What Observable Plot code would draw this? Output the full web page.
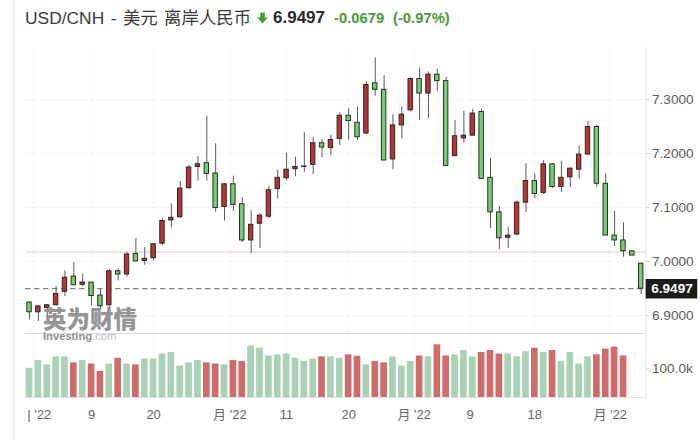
<!DOCTYPE html>
<html>
<head>
<meta charset="utf-8">
<script src="https://cdn.jsdelivr.net/npm/d3@7"></script>
<script src="https://cdn.jsdelivr.net/npm/@observablehq/plot@0.6"></script>
<style>
html,body{margin:0;padding:0;background:#fff;width:700px;height:440px;overflow:hidden;font-family:"Liberation Sans","Noto Sans CJK SC",sans-serif}
#edge{position:absolute;left:12.5px;top:0;width:2.5px;height:440px;background:#ececec}
#head{position:absolute;left:25px;top:7px;height:22px;line-height:22px;white-space:nowrap;color:#3a3a3a;font-size:17.4px;word-spacing:1.6px}
#head b{position:absolute;top:0;font-weight:bold}
#head svg{position:absolute;left:232px;top:5px}
#mark{position:absolute;left:43px;top:307px;white-space:nowrap}
#mark .a{display:block;height:23px;font:900 23.5px/23px "Noto Sans CJK SC";color:#8a8a8a;opacity:.9}
#mark .b{display:block;height:12px;font:bold 11.2px/12px "Liberation Sans";color:#8d8d8d}
#mark .b span{font-weight:normal;color:#bdbdbd}
#charts{position:absolute;left:0;top:0}
#charts svg{display:block;background:transparent}
</style>
</head>
<body>
<div id="charts"></div>
<div id="edge"></div>
<div id="head"><span>USD/CNH - 美元 离岸人民币</span>
<svg width="11" height="12" viewBox="0 0 11 12"><path d="M3.2 0.5H7.8V5.5H10.8L5.5 11.5L0.2 5.5H3.2Z" fill="#4a9a3a"/></svg>
<b style="left:248px;font-size:17px;color:#2a2a2a">6.9497</b>
<b style="left:309px;font-size:14.8px;color:#4a9a3a">-0.0679</b>
<b style="left:368px;font-size:14.8px;color:#4a9a3a">(-0.97%)</b>
</div>
<div id="mark"><div class="a">英为财情</div><div class="b">Investing<span>.com</span></div></div>
<script>
const open  = [6.924,6.906,6.914,6.919,6.944,6.972,6.957,6.961,6.937,6.919,6.982,6.976,7.014,7.001,7.006,7.033,7.076,7.082,7.136,7.175,7.182,7.163,7.101,7.143,7.106,7.039,7.070,7.083,7.134,7.154,7.171,7.175,7.179,7.219,7.210,7.227,7.270,7.257,7.237,7.330,7.318,7.189,7.252,7.280,7.338,7.311,7.346,7.334,7.195,7.228,7.233,7.277,7.155,7.091,7.044,7.050,7.109,7.149,7.127,7.180,7.138,7.156,7.170,7.198,7.249,7.144,7.048,7.039,7.019,6.996];
const close = [6.906,6.917,6.919,6.940,6.970,6.956,6.961,6.936,6.917,6.982,6.976,7.013,7.000,7.005,7.032,7.075,7.081,7.135,7.174,7.180,7.162,7.099,7.143,7.105,7.039,7.068,7.085,7.132,7.155,7.170,7.175,7.176,7.219,7.211,7.225,7.270,7.260,7.230,7.327,7.318,7.187,7.252,7.272,7.338,7.311,7.346,7.334,7.177,7.232,7.233,7.274,7.153,7.091,7.043,7.048,7.109,7.149,7.125,7.180,7.138,7.155,7.172,7.198,7.249,7.144,7.048,7.039,7.019,7.011,6.9497];
const high  = [6.925,6.917,6.920,6.954,6.983,6.998,6.977,6.961,6.948,6.985,6.987,7.017,7.043,7.026,7.033,7.079,7.107,7.148,7.178,7.194,7.269,7.218,7.144,7.158,7.118,7.094,7.089,7.139,7.169,7.201,7.193,7.239,7.230,7.226,7.234,7.275,7.283,7.286,7.333,7.377,7.344,7.272,7.286,7.340,7.358,7.351,7.356,7.341,7.261,7.278,7.282,7.282,7.191,7.102,7.064,7.112,7.181,7.162,7.187,7.181,7.185,7.173,7.214,7.259,7.252,7.162,7.093,7.072,7.019,6.996];
const low   = [6.892,6.889,6.896,6.918,6.935,6.956,6.953,6.918,6.912,6.909,6.964,6.971,7.000,6.993,7.001,7.030,7.062,7.080,7.133,7.149,7.149,7.091,7.075,7.093,7.035,7.015,7.024,7.079,7.116,7.150,7.157,7.165,7.161,7.192,7.196,7.215,7.225,7.224,7.235,7.306,7.187,7.170,7.227,7.277,7.261,7.264,7.315,7.177,7.195,7.219,7.233,7.153,7.061,7.022,7.024,7.048,7.091,7.116,7.124,7.135,7.128,7.137,7.153,7.198,7.137,7.048,7.028,7.008,7.011,6.939];
const volume = [102,129,114,142,142,121,129,117,91,117,137,117,114,134,134,152,157,110,121,129,121,117,114,129,126,180,172,145,149,152,137,126,134,142,142,137,149,144,114,126,121,142,110,126,145,142,184,145,149,164,142,157,164,152,152,142,160,172,157,164,126,157,117,142,149,169,176,145];
const volumeTone = ["g","g","g","g","g","r","g","r","r","g","r","g","r","g","g","g","g","g","g","g","r","r","g","r","r","g","g","g","g","g","g","g","g","r","g","g","r","r","g","r","r","g","g","g","r","g","r","r","g","g","g","r","r","r","g","g","g","r","g","r","g","g","g","g","r","r","r","r"];
const tickSpots = [0.45,7,14,22.6,29,36,43.4,49.7,57,65.5];
const labelSpots = [1.1,7,14,22.6,29,36,43.4,49.7,57,65.5];
const tickLabels = ["| '22","9","20","月 '22","11","20","月 '22","9","18","月 '22"];
const priceTicks = [6.9,7.0,7.1,7.2,7.3];
const volumeTicks = [100];
const lastPrice = 6.9497;
const previousClose = 7.0176;

const candles = open.map((o,i)=>({i,o,c:close[i],h:high[i],l:low[i]}));
const bars = volume.map((v,i)=>({i,v,tone:volumeTone[i]}));
const xScale = {domain:[0,69],range:[29,640.7]};
const font = '"Liberation Sans","Noto Sans CJK SC",sans-serif';
const grid = "#f7f7f7", inkAxis = "#5c5c5c";

const price = Plot.plot({
  width:700,height:334,marginLeft:25,marginRight:54.5,marginTop:47,marginBottom:1,
  style:{fontFamily:font,background:"transparent"},
  x:{...xScale,axis:null},
  y:{domain:[6.8667,7.3963],range:[333,47],axis:null},
  marks:[
    Plot.ruleY(priceTicks,{stroke:grid}),
    Plot.ruleX(tickSpots,{stroke:grid}),
    Plot.frame({anchor:"right",stroke:"#e2e2e2"}),
    Plot.ruleY([6.8667],{stroke:"#d9d9d9",strokeWidth:1.2}),
    Plot.ruleY([previousClose],{stroke:"#f2c4c2"}),
    Plot.ruleY([lastPrice],{stroke:"#666",strokeDasharray:"5.5,3.5"}),
    Plot.ruleX(candles,{x:"i",y1:"l",y2:"h",stroke:"#5a5a5a"}),
    Plot.rect(candles,{x1:d=>d.i-0.25,x2:d=>d.i+0.25,y1:"o",y2:"c",
      fill:d=>d.c>=d.o?"#b83434":"#74cf72",stroke:"#25261f",strokeWidth:0.95}),
    Plot.axisY(priceTicks,{anchor:"right",tickSize:2.5,tickPadding:3.5,fontSize:13.6,color:inkAxis,stroke:"#ccc",
      tickFormat:d=>d.toFixed(4),label:null}),
    Plot.ruleY([lastPrice],{x1:69.56,x2:75.38,stroke:"#1c1c1c",strokeWidth:19.5}),
    Plot.text([lastPrice],{x:72.47,y:d=>d,text:d=>d.toFixed(4),fill:"#fff",fontSize:13.6,fontWeight:"bold"})
  ]
});

const vol = Plot.plot({
  width:700,height:106,marginLeft:25,marginRight:54.5,marginTop:0,marginBottom:43,
  style:{fontFamily:font,background:"transparent"},
  x:{...xScale,axis:null},
  y:{domain:[0,220],range:[63,0],axis:null},
  marks:[
    Plot.ruleX(tickSpots,{stroke:grid}),
    Plot.frame({anchor:"right",stroke:"#e2e2e2"}),
    Plot.ruleY([0],{stroke:"#e2e2e2"}),
    Plot.rect(bars,{x1:d=>d.i-0.375,x2:d=>d.i+0.375,y1:0,y2:"v",fill:d=>d.tone==="r"?"#d06b6b":"#a9d1b4"}),
    Plot.axisY(volumeTicks,{anchor:"right",tickSize:2.5,tickPadding:3.5,fontSize:13.6,color:inkAxis,stroke:"#ccc",
      tickFormat:d=>d.toFixed(1)+"k",label:null}),
    Plot.axisX(labelSpots,{anchor:"bottom",tickSize:0,tickPadding:12,fontSize:13,color:"#666",
      tickFormat:(d,i)=>tickLabels[i],label:null})
  ]
});

const host = document.getElementById("charts");
host.append(price,vol);
</script>
</body>
</html>
